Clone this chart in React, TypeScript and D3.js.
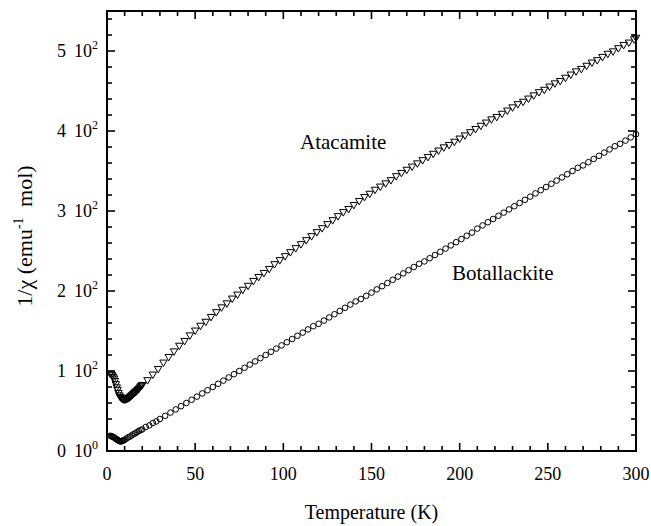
import React from "react";
import * as d3 from "d3";

// Atacamite: temperature (K) and 1/chi (emu^-1 mol)
const atacamiteT = [1.8, 2.5, 3, 3.5, 4, 4.5, 5, 5.5, 6, 6.5, 7, 7.5, 8, 8.5, 9, 9.5, 10, 10.5, 11, 11.5, 12, 12.5, 13, 13.5, 14, 14.5, 15, 15.5, 16, 16.5, 17, 17.5, 18, 18.5, 19, 19.5, 20,
  23, 26, 29, 32, 35, 38, 41, 44, 47, 50, 53, 56, 59, 62, 65, 68, 71, 74, 77, 80, 83, 86, 89, 92, 95, 98, 101, 104, 107, 110, 113, 116, 119, 122, 125, 128, 131, 134, 137, 140, 143, 146, 149, 152, 155, 158, 161, 164, 167, 170, 173, 176, 179, 182, 185, 188, 191, 194, 197, 200, 203, 206, 209, 212, 215, 218, 221, 224, 227, 230, 233, 236, 239, 242, 245, 248, 251, 254, 257, 260, 263, 266, 269, 272, 275, 278, 281, 284, 287, 290, 293, 296, 299, 300];
const atacamiteInvChi = [97, 96, 95, 93, 91, 88, 84, 80, 77, 73, 70, 68, 67, 66, 65.5, 65, 65, 65, 65.5, 66, 66.5, 67, 68, 69, 70, 71, 72, 73, 74, 75, 76, 77, 78, 79.5, 81, 82, 83,
  89, 96, 103, 111, 118, 125, 132, 138, 145, 151, 157, 162, 168, 174, 180, 185, 191, 196, 202, 207, 213, 218, 223, 228, 234, 239, 244, 249, 254, 259, 264, 269, 274, 279, 284, 289, 294, 299, 303, 308, 313, 318, 322, 327, 331, 335, 339, 344, 348, 352, 356, 360, 364, 368, 372, 376, 380, 383, 387, 391, 395, 399, 403, 407, 411, 415, 418, 422, 426, 430, 434, 437, 441, 445, 449, 452, 456, 460, 463, 467, 471, 475, 478, 482, 486, 489, 493, 497, 500, 504, 508, 511, 515, 517];

// Botallackite
const botallackiteT = [1.8, 2.5, 3, 3.5, 4, 4.5, 5, 5.5, 6, 6.5, 7, 7.5, 8, 8.5, 9, 9.5, 10, 11, 12, 13, 14, 15, 16, 17, 18, 19, 20, 22, 24, 26, 28, 30,
  33, 36, 39, 42, 45, 48, 51, 54, 57, 60, 63, 66, 69, 72, 75, 78, 81, 84, 87, 90, 93, 96, 99, 102, 105, 108, 111, 114, 117, 120, 123, 126, 129, 132, 135, 138, 141, 144, 147, 150, 153, 156, 159, 162, 165, 168, 171, 174, 177, 180, 183, 186, 189, 192, 195, 198, 201, 204, 207, 210, 213, 216, 219, 222, 225, 228, 231, 234, 237, 240, 243, 246, 249, 252, 255, 258, 261, 264, 267, 270, 273, 276, 279, 282, 285, 288, 291, 294, 297, 300];
const botallackiteInvChi = [19, 18.5, 18, 17.5, 17, 16, 15, 14.5, 14, 13, 12.5, 12, 12, 12.5, 13, 13.5, 14, 15.5, 17, 18, 19.5, 21, 22, 23.5, 25, 26, 27, 30, 32, 35, 37, 40,
  44, 48, 52, 56, 60, 64, 68, 72, 76, 80, 84, 88, 92, 96, 100, 104, 108, 112, 116, 120, 124, 128, 132, 136, 140, 144, 148, 152, 156, 159, 163, 167, 171, 175, 179, 183, 187, 190, 194, 198, 202, 206, 210, 214, 218, 222, 226, 230, 234, 237, 241, 245, 249, 253, 257, 261, 265, 269, 273, 278, 282, 286, 290, 294, 298, 302, 306, 310, 314, 318, 322, 326, 330, 334, 338, 342, 346, 350, 354, 357, 361, 365, 369, 373, 377, 381, 384, 388, 392, 396];

const xMajorTicks = [0, 50, 100, 150, 200, 250, 300];
const yMajorTicks = [0, 100, 200, 300, 400, 500];
const yTickMantissa = ["0", "1", "2", "3", "4", "5"];
const yTickExponent = ["0", "2", "2", "2", "2", "2"];

const W = 651;
const H = 526;
const M = { left: 107, right: 636, top: 11, bottom: 451 };
const FONT = "'Liberation Serif', 'Times New Roman', serif";

export default function App() {
  const x = d3.scaleLinear().domain([0, 300]).range([M.left, M.right]);
  const y = d3.scaleLinear().domain([0, 550]).range([M.bottom, M.top]);

  const xMinor = d3.range(0, 301, 10);
  const yMinor = d3.range(0, 551, 20);
  const tri = d3.symbol().type(d3.symbolTriangle).size(24)();

  const ata = atacamiteT.map((t, i) => [t, atacamiteInvChi[i]]);
  const bot = botallackiteT.map((t, i) => [t, botallackiteInvChi[i]]);

  return (
    <svg width={W} height={H} style={{ position: "absolute", left: 0, top: 0, background: "#fff" }} fontFamily={FONT}>
      <rect x={0} y={0} width={W} height={H} fill="#fff" />
      {/* data */}
      <g fill="none" stroke="#000" strokeWidth={1}>
        {bot.map(([t, v], i) => (
          <circle key={"b" + i} cx={x(t)} cy={y(v)} r={2.8} />
        ))}
        {ata.map(([t, v], i) => (
          <path key={"a" + i} d={tri} transform={`translate(${x(t)},${y(v)}) rotate(180)`} />
        ))}
      </g>
      {/* ticks */}
      <g stroke="#000" strokeWidth={1.6}>
        {xMinor.map((t) => {
          const len = t % 50 === 0 ? 8 : 5;
          return (
            <g key={"xt" + t}>
              <line x1={x(t)} x2={x(t)} y1={M.bottom} y2={M.bottom - len} />
              <line x1={x(t)} x2={x(t)} y1={M.top} y2={M.top + len} />
            </g>
          );
        })}
        {yMinor.map((v) => {
          const len = v % 100 === 0 ? 8 : 5;
          return (
            <g key={"yt" + v}>
              <line x1={M.left} x2={M.left + len} y1={y(v)} y2={y(v)} />
              <line x1={M.right} x2={M.right - len} y1={y(v)} y2={y(v)} />
            </g>
          );
        })}
      </g>
      <rect x={M.left} y={M.top} width={M.right - M.left} height={M.bottom - M.top} fill="none" stroke="#000" strokeWidth={2} />
      {/* x tick labels */}
      <g fontSize={18} textAnchor="middle" fill="#000">
        {xMajorTicks.map((t) => (
          <text key={"xl" + t} x={x(t)} y={480}>{t}</text>
        ))}
      </g>
      {/* y tick labels */}
      <g fontSize={18} textAnchor="end" fill="#000">
        {yMajorTicks.map((v, i) => (
          <text key={"yl" + v} x={98} y={y(v) + 6}>
            {yTickMantissa[i]}{"\u2009"} 10
            <tspan fontSize={12} dy={-8}>{yTickExponent[i]}</tspan>
          </text>
        ))}
      </g>
      {/* axis titles */}
      <text x={(M.left + M.right) / 2} y={519} fontSize={20} textAnchor="middle" fill="#000">Temperature (K)</text>
      <text transform={`translate(32,236) rotate(-90)`} fontSize={22} textAnchor="middle" fill="#000">
        1/χ (emu<tspan fontSize={14} dy={-9}>-1</tspan><tspan dy={9} dx={5}> mol)</tspan>
      </text>
      {/* annotations */}
      <text x={300} y={149} fontSize={21} fill="#000">Atacamite</text>
      <text x={452} y={280} fontSize={21} fill="#000">Botallackite</text>
    </svg>
  );
}
